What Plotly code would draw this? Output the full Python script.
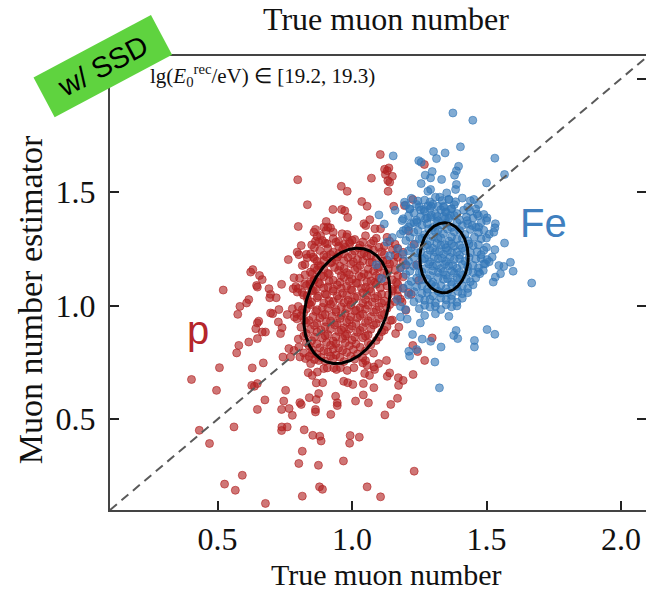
import numpy as np
import plotly.graph_objects as go

# ---------------- data ----------------
# proton sample: (true muon number, muon number estimator)
p_points = [
    (0.798,1.555),(0.960,1.526),(0.982,1.504),(0.834,1.445),(0.929,1.424),(0.961,1.424),(0.973,1.418),
    (0.984,1.389),(0.800,1.349),(0.904,1.371),(0.895,1.346),(0.910,1.346),(0.920,1.343),(0.864,1.336),
    (1.105,1.666),(1.121,1.601),(1.131,1.595),(1.124,1.578),(1.137,1.607),(1.150,1.570),(1.133,1.551),
    (1.140,1.544),(1.269,1.622),(1.072,1.562),(1.134,1.504),(1.036,1.459),(1.056,1.438),(1.226,1.468),
    (1.195,1.441),(1.155,1.438),(1.066,1.379),(1.044,1.361),(1.051,1.353),(1.085,1.339),(1.106,1.339),
    (0.904,1.331),(0.858,1.324),(0.883,1.309),(0.930,1.324),(0.963,1.317),(0.982,1.314),(0.864,1.284),
    (0.876,1.280),(0.908,1.273),(0.940,1.280),(0.969,1.270),(0.992,1.273),(0.811,1.265),(0.796,1.236),
    (0.802,1.225),(0.846,1.229),(0.856,1.214),(0.833,1.211),(0.763,1.203),(0.895,1.199),(0.883,1.177),
    (0.920,1.226),(0.945,1.214),(0.969,1.229),(0.815,1.177),(0.623,1.148),(0.631,1.159),(0.656,1.133),
    (0.666,1.115),(0.645,1.089),(0.648,1.082),(0.521,1.069),(0.691,1.075),(0.697,1.050),(0.694,1.035),
    (0.738,1.094),(0.784,1.123),(0.791,1.085),(0.781,1.075),(0.796,1.060),(0.852,1.141),(0.858,1.111),
    (0.843,1.094),(0.824,1.097),(0.856,1.067),(0.833,1.044),(0.718,1.035),(0.616,1.027),(0.608,1.012),
    (0.583,0.997),(0.575,0.962),(0.728,0.983),(0.697,0.968),(0.705,0.965),(0.759,0.961),(0.778,0.987),
    (0.786,0.950),(0.794,0.965),(0.815,0.983),(0.823,0.935),(0.839,1.009),(0.648,0.924),(0.653,0.932),
    (0.642,0.899),(0.666,0.884),(0.648,0.855),(0.678,0.884),(0.726,0.928),(0.740,0.903),(0.734,0.877),
    (0.579,0.825),(0.616,0.840),(0.571,0.792),(0.765,0.811),(0.784,0.803),(0.802,0.818),(0.806,0.774),
    (0.771,0.774),(0.743,0.774),(0.670,0.748),(0.629,0.726),(0.507,0.727),(0.852,0.789),(0.876,0.759),
    (0.895,0.723),(0.846,0.745),(0.827,0.767),(1.174,0.906),(1.162,0.877),(1.143,0.935),(1.186,1.016),
    (1.226,0.825),(1.244,0.798),(1.270,0.759),(1.298,0.858),(1.128,0.759),(1.099,0.745),(1.081,0.730),
    (1.248,1.111),(0.403,0.675),(0.496,0.627),(0.627,0.649),(0.648,0.657),(0.637,0.645),(0.676,0.585),
    (0.648,0.543),(0.561,0.466),(0.432,0.451),(0.470,0.393),(0.753,0.627),(0.746,0.580),(0.738,0.543),
    (0.766,0.547),(0.778,0.517),(0.806,0.573),(0.811,0.565),(0.837,0.705),(0.852,0.693),(0.871,0.708),
    (0.867,0.660),(0.891,0.661),(0.841,0.595),(0.867,0.587),(0.876,0.613),(0.864,0.543),(0.864,0.532),
    (0.908,0.726),(0.932,0.726),(0.942,0.719),(0.957,0.727),(0.982,0.715),(0.969,0.667),(0.984,0.661),
    (0.939,0.601),(0.945,0.572),(0.945,0.560),(0.921,0.521),(0.739,0.466),(0.738,0.450),(0.759,0.466),
    (0.822,0.453),(0.854,0.429),(0.880,0.425),(0.885,0.404),(0.815,0.359),(0.802,0.305),(0.875,0.297),
    (0.592,0.253),(0.526,0.214),(0.566,0.187),(0.879,0.202),(0.890,0.191),(0.815,0.161),(0.678,0.129),
    (0.993,0.428),(1.027,0.421),(0.991,0.394),(0.968,0.316),(1.007,0.727),(1.040,0.748),(1.056,0.737),
    (1.084,0.719),(1.047,0.701),(1.065,0.693),(1.140,0.704),(1.131,0.689),(1.172,0.683),(1.190,0.671),
    (1.173,0.649),(1.227,0.697),(1.003,0.653),(1.042,0.657),(1.081,0.639),(1.013,0.580),(1.042,0.607),
    (1.061,0.572),(1.144,0.565),(1.169,0.592),(1.122,0.519),(1.231,0.271),(1.056,0.202),(1.106,0.158),
]

# proton dense core (inside / around the contour)
p_core_points = [
    (0.87,1.305),(0.93,1.296),(0.98,1.303),(1.01,1.292),(1.05,1.308),(1.09,1.297),(1.13,1.301),
    (0.85,1.268),(0.90,1.276),(0.95,1.262),(0.99,1.279),(1.03,1.266),(1.07,1.274),(1.12,1.263),(1.16,1.271),
    (0.88,1.243),(0.93,1.236),(0.965,1.248),(1.01,1.241),(1.045,1.232),(1.08,1.245),(1.11,1.238),(1.15,1.247),(1.19,1.235),
    (0.86,1.207),(0.905,1.215),(0.94,1.203),(0.985,1.212),(1.02,1.204),(1.055,1.218),(1.09,1.209),(1.13,1.201),(1.17,1.213),
    (0.825,1.182),(0.875,1.176),(0.92,1.188),(0.955,1.174),(0.995,1.185),(1.03,1.177),(1.065,1.19),(1.10,1.172),(1.14,1.184),(1.20,1.178),
    (0.845,1.148),(0.87,1.157),(0.91,1.143),(0.95,1.155),(0.98,1.146),(1.01,1.158),(1.045,1.141),(1.08,1.153),(1.12,1.145),(1.16,1.156),
    (0.805,1.121),(0.86,1.115),(0.895,1.128),(0.93,1.112),(0.97,1.124),(1.00,1.117),(1.035,1.126),(1.07,1.109),(1.10,1.122),(1.15,1.114),(1.19,1.127),
    (0.83,1.089),(0.88,1.096),(0.91,1.083),(0.945,1.092),(0.98,1.086),(1.02,1.098),(1.05,1.081),(1.09,1.094),(1.13,1.087),(1.17,1.095),
    (0.815,1.058),(0.85,1.066),(0.90,1.052),(0.93,1.064),(0.965,1.055),(1.00,1.068),(1.04,1.057),(1.07,1.063),(1.11,1.051),(1.15,1.066),(1.21,1.058),
    (0.835,1.028),(0.87,1.035),(0.915,1.022),(0.95,1.031),(0.985,1.024),(1.01,1.036),(1.05,1.027),(1.085,1.033),(1.12,1.021),(1.18,1.029),
    (0.80,0.997),(0.845,1.004),(0.89,0.993),(0.92,1.006),(0.96,0.995),(0.995,1.003),(1.03,0.991),(1.06,1.002),(1.10,0.996),(1.14,1.005),
    (0.82,0.968),(0.865,0.975),(0.90,0.962),(0.94,0.973),(0.975,0.966),(1.01,0.977),(1.04,0.963),(1.08,0.972),(1.12,0.965),
    (0.795,0.942),(0.84,0.935),(0.88,0.946),(0.92,0.933),(0.955,0.944),(0.99,0.936),(1.02,0.947),(1.06,0.934),(1.10,0.943),(1.15,0.937),
    (0.81,0.905),(0.86,0.913),(0.90,0.907),(0.935,0.916),(0.97,0.903),(1.00,0.911),(1.04,0.904),(1.08,0.915),(1.13,0.908),
    (0.83,0.877),(0.87,0.884),(0.91,0.873),(0.95,0.886),(0.98,0.875),(1.02,0.883),(1.06,0.872),(1.11,0.885),
    (0.80,0.853),(0.85,0.846),(0.89,0.857),(0.93,0.844),(0.965,0.855),(1.00,0.848),(1.04,0.859),(1.09,0.847),
    (0.84,0.823),(0.88,0.815),(0.92,0.826),(0.95,0.813),(0.99,0.824),(1.03,0.817),(1.07,0.828),
    (0.82,0.792),(0.87,0.785),(0.91,0.796),(0.94,0.783),(0.98,0.794),(1.02,0.787),(1.08,0.791),
    (0.86,0.763),(0.90,0.756),(0.93,0.767),(0.97,0.754),(1.01,0.765),(1.05,0.758),
    (1.22,1.05),(1.20,0.98),(1.24,1.18),(1.17,1.07),(1.23,1.27),(1.21,1.33),
    (0.89,1.287),(0.95,1.283),(1.00,1.288),(1.04,1.281),(1.08,1.286),(1.14,1.284),
    (0.86,1.256),(0.91,1.252),(0.975,1.258),(1.025,1.254),(1.06,1.251),(1.10,1.257),(1.17,1.253),
    (0.83,1.226),(0.895,1.222),(0.95,1.228),(1.00,1.224),(1.035,1.227),(1.07,1.221),(1.12,1.226),(1.16,1.223),
    (0.87,1.196),(0.925,1.192),(0.97,1.198),(1.005,1.193),(1.04,1.197),(1.075,1.191),(1.115,1.196),(1.155,1.192),(1.19,1.197),
    (0.86,1.166),(0.895,1.162),(0.935,1.168),(0.97,1.163),(1.02,1.167),(1.06,1.161),(1.095,1.166),(1.135,1.162),(1.18,1.168),
    (0.825,1.136),(0.885,1.132),(0.915,1.138),(0.96,1.133),(0.99,1.137),(1.025,1.131),(1.06,1.136),(1.09,1.132),(1.13,1.138),(1.17,1.133),
    (0.845,1.106),(0.875,1.102),(0.915,1.108),(0.955,1.103),(0.99,1.107),(1.015,1.101),(1.055,1.106),(1.085,1.102),(1.12,1.108),(1.165,1.103),
    (0.80,1.076),(0.865,1.072),(0.895,1.078),(0.93,1.073),(0.96,1.077),(0.995,1.071),(1.035,1.076),(1.065,1.072),(1.105,1.078),(1.15,1.073),(1.19,1.077),
    (0.82,1.046),(0.875,1.042),(0.905,1.048),(0.945,1.043),(0.98,1.047),(1.02,1.041),(1.055,1.046),(1.095,1.042),(1.135,1.048),(1.17,1.043),
    (0.85,1.016),(0.895,1.012),(0.93,1.018),(0.97,1.013),(1.00,1.017),(1.04,1.011),(1.075,1.016),(1.11,1.012),(1.16,1.018),
    (0.83,0.986),(0.87,0.982),(0.91,0.988),(0.94,0.983),(0.98,0.987),(1.015,0.981),(1.05,0.986),(1.09,0.982),(1.13,0.988),
    (0.81,0.956),(0.855,0.952),(0.89,0.958),(0.925,0.953),(0.96,0.957),(0.995,0.951),(1.03,0.956),(1.07,0.952),(1.11,0.958),
    (0.83,0.926),(0.87,0.922),(0.905,0.928),(0.945,0.923),(0.98,0.927),(1.015,0.921),(1.05,0.926),(1.09,0.922),
    (0.845,0.896),(0.885,0.892),(0.92,0.898),(0.96,0.893),(0.99,0.897),(1.03,0.891),(1.07,0.896),(1.12,0.892),
    (0.82,0.866),(0.86,0.862),(0.90,0.868),(0.94,0.863),(0.975,0.867),(1.01,0.861),(1.05,0.866),(1.10,0.862),
    (0.83,0.836),(0.87,0.832),(0.905,0.838),(0.94,0.833),(0.975,0.837),(1.015,0.831),(1.06,0.836),
    (0.85,0.806),(0.895,0.802),(0.93,0.808),(0.965,0.803),(1.005,0.807),(1.05,0.801),
    (0.84,0.776),(0.885,0.772),(0.92,0.778),(0.955,0.773),(0.995,0.777),(1.04,0.771),
]

# iron sample
fe_points = [
    (1.375,1.849),(1.449,1.817),(1.153,1.660),(1.303,1.679),(1.346,1.673),(1.403,1.700),(1.314,1.648),
    (1.248,1.639),(1.257,1.632),(1.531,1.650),(1.396,1.614),(1.388,1.594),(1.381,1.575),(1.298,1.591),
    (1.272,1.575),(1.292,1.563),(1.333,1.556),(1.567,1.578),(1.500,1.541),(1.257,1.538),(1.388,1.534),
    (1.385,1.512),(1.352,1.497),(1.292,1.512),(1.282,1.504),(1.453,1.468),(1.326,1.478),(1.360,1.468),
    (1.195,1.456),(1.214,1.427),(1.240,1.446),(1.282,1.440),(1.295,1.438),(1.267,1.424),(1.320,1.438),
    (1.341,1.434),(1.369,1.427),(1.347,1.412),(1.465,1.405),(1.490,1.402),(1.502,1.387),(1.533,1.361),
    (1.186,1.375),(1.217,1.361),(1.242,1.368),(1.273,1.383),(1.292,1.390),(1.317,1.393),(1.347,1.383),
    (1.366,1.397),(1.428,1.375),(1.447,1.353),(1.471,1.346),
    (1.668,1.100),(1.599,1.152),(1.589,1.191),(1.564,1.173),(1.546,1.177),(1.525,1.104),(1.533,1.126),
    (1.552,1.141),(1.567,1.276),(1.531,1.247),(1.521,1.214),(1.502,1.203),(1.496,1.185),(1.488,1.155),
    (1.475,1.141),(1.531,1.343),(1.527,1.324),(1.502,0.895),(1.531,0.874),(1.455,0.847),(1.455,0.818),
    (1.387,0.891),(1.378,0.869),(1.393,0.855),(1.331,0.818),(1.292,0.843),(1.261,0.853),(1.214,0.778),
    (1.211,0.799),(1.240,0.807),(1.308,0.752),(1.225,0.873),(1.254,0.924),(1.180,0.950),(1.205,0.941),
    (1.180,0.997),(1.199,0.983),(1.168,1.027),(1.325,0.638),
    (1.12,1.36),(1.15,1.30),(1.17,1.25),(1.14,1.22),(1.19,1.33),(1.10,1.40),(1.16,1.42),(1.13,1.28),
    (1.09,1.18),(1.11,1.12),
]

# iron dense core
fe_core_points = [
    (1.22,1.473),(1.27,1.465),(1.31,1.478),(1.36,1.468),(1.41,1.474),
    (1.20,1.443),(1.25,1.436),(1.30,1.447),(1.34,1.438),(1.38,1.445),(1.43,1.434),(1.47,1.446),
    (1.23,1.408),(1.27,1.416),(1.31,1.404),(1.35,1.413),(1.39,1.406),(1.44,1.415),
    (1.19,1.383),(1.24,1.376),(1.28,1.387),(1.32,1.374),(1.36,1.385),(1.40,1.378),(1.45,1.386),(1.50,1.375),
    (1.21,1.347),(1.26,1.355),(1.30,1.344),(1.33,1.356),(1.37,1.345),(1.41,1.353),(1.46,1.346),
    (1.18,1.316),(1.23,1.324),(1.27,1.313),(1.31,1.325),(1.34,1.317),(1.38,1.326),(1.42,1.314),(1.47,1.323),(1.51,1.315),
    (1.20,1.287),(1.25,1.294),(1.29,1.283),(1.32,1.296),(1.36,1.285),(1.39,1.293),(1.43,1.286),(1.48,1.295),
    (1.22,1.256),(1.27,1.264),(1.30,1.253),(1.33,1.266),(1.35,1.255),(1.38,1.262),(1.41,1.254),(1.45,1.265),(1.50,1.257),
    (1.19,1.226),(1.24,1.233),(1.28,1.224),(1.31,1.236),(1.34,1.227),(1.37,1.235),(1.40,1.223),(1.44,1.234),(1.48,1.225),
    (1.21,1.197),(1.26,1.204),(1.29,1.193),(1.32,1.206),(1.35,1.195),(1.38,1.203),(1.42,1.196),(1.46,1.205),(1.51,1.194),
    (1.18,1.166),(1.23,1.174),(1.27,1.163),(1.30,1.175),(1.33,1.164),(1.36,1.176),(1.39,1.165),(1.43,1.173),(1.47,1.167),
    (1.20,1.137),(1.25,1.144),(1.29,1.133),(1.32,1.146),(1.35,1.135),(1.38,1.143),(1.41,1.134),(1.45,1.145),
    (1.22,1.107),(1.26,1.114),(1.30,1.103),(1.34,1.116),(1.37,1.105),(1.40,1.113),(1.44,1.106),
    (1.19,1.077),(1.24,1.084),(1.28,1.073),(1.31,1.086),(1.35,1.075),(1.39,1.083),(1.43,1.076),
    (1.21,1.047),(1.26,1.054),(1.30,1.043),(1.33,1.056),(1.37,1.045),(1.41,1.053),
    (1.23,1.017),(1.27,1.024),(1.31,1.013),(1.35,1.026),(1.39,1.015),
    (1.25,0.987),(1.29,0.994),(1.33,0.983),(1.37,0.995),
    (1.27,0.957),(1.31,0.964),(1.36,0.953),
    (1.245,1.461),(1.29,1.457),(1.335,1.463),(1.385,1.458),(1.44,1.462),
    (1.215,1.426),(1.255,1.422),(1.29,1.428),(1.33,1.423),(1.37,1.427),(1.415,1.421),(1.46,1.426),
    (1.21,1.396),(1.255,1.392),(1.295,1.398),(1.34,1.393),(1.38,1.397),(1.425,1.391),(1.47,1.396),
    (1.23,1.366),(1.28,1.362),(1.315,1.368),(1.35,1.363),(1.39,1.367),(1.43,1.361),(1.48,1.366),
    (1.20,1.336),(1.245,1.332),(1.285,1.338),(1.32,1.333),(1.355,1.337),(1.40,1.331),(1.44,1.336),(1.49,1.332),
    (1.215,1.302),(1.26,1.298),(1.30,1.304),(1.33,1.299),(1.37,1.303),(1.41,1.297),(1.455,1.302),(1.50,1.298),
    (1.235,1.272),(1.28,1.268),(1.315,1.274),(1.345,1.269),(1.37,1.273),(1.40,1.267),(1.435,1.272),(1.47,1.268),
    (1.21,1.242),(1.255,1.238),(1.29,1.244),(1.325,1.239),(1.355,1.243),(1.39,1.237),(1.42,1.242),(1.465,1.238),(1.49,1.244),
    (1.23,1.212),(1.27,1.208),(1.305,1.214),(1.335,1.209),(1.365,1.213),(1.40,1.207),(1.435,1.212),(1.48,1.208),
    (1.20,1.182),(1.245,1.178),(1.285,1.184),(1.315,1.179),(1.345,1.183),(1.375,1.177),(1.41,1.182),(1.45,1.178),(1.49,1.184),
    (1.215,1.152),(1.26,1.148),(1.30,1.154),(1.34,1.149),(1.37,1.153),(1.40,1.147),(1.43,1.152),(1.47,1.148),
    (1.24,1.122),(1.28,1.118),(1.32,1.124),(1.355,1.119),(1.39,1.123),(1.425,1.117),(1.46,1.122),
    (1.21,1.092),(1.26,1.088),(1.295,1.094),(1.33,1.089),(1.37,1.093),(1.41,1.087),(1.45,1.092),
    (1.23,1.062),(1.28,1.058),(1.32,1.064),(1.355,1.059),(1.395,1.063),(1.43,1.057),
    (1.25,1.032),(1.29,1.028),(1.33,1.034),(1.37,1.029),(1.41,1.033),
    (1.27,1.002),(1.31,0.998),(1.35,1.004),(1.39,0.999),
]

p_x = [pt[0] for pt in p_points + p_core_points]
p_y = [pt[1] for pt in p_points + p_core_points]
fe_x = [pt[0] for pt in fe_points + fe_core_points]
fe_y = [pt[1] for pt in fe_points + fe_core_points]

# 1-sigma contour parameters  [p, Fe]
ell_cx = [0.981, 1.342]
ell_cy = [0.999, 1.211]
ell_sx = [0.160, 0.090]
ell_sy = [0.254, 0.154]
ell_rho = [0.249, 0.02]

diag = [0.1, 2.1]
x_ticks = [0.5, 1.0, 1.5, 2.0]
y_ticks = [0.5, 1.0, 1.5, 2.0]
x_range = [0.1, 2.093]
y_range = [0.1, 2.1]

RED = "rgba(178,34,34,0.62)"
BLUE = "rgba(52,120,184,0.62)"
SERIF = "Liberation Serif"
SANS = "Liberation Sans"

fig = go.Figure()

fig.add_trace(go.Scatter(x=diag, y=diag, mode="lines", yaxis="y2",
                         line=dict(color="#5a5a5a", width=2, dash="9px,6px"),
                         hoverinfo="skip", showlegend=False))

fig.add_trace(go.Scatter(x=p_x, y=p_y, mode="markers", name="p", showlegend=False,
                         marker=dict(size=8, color=RED, line=dict(width=1, color=RED))))
fig.add_trace(go.Scatter(x=fe_x, y=fe_y, mode="markers", name="Fe", showlegend=False,
                         marker=dict(size=8, color=BLUE, line=dict(width=1, color=BLUE))))

t = np.linspace(0, 2 * np.pi, 240)
for cx, cy, sx, sy, rho in zip(ell_cx, ell_cy, ell_sx, ell_sy, ell_rho):
    ex = cx + sx * np.cos(t)
    ey = cy + sy * (rho * np.cos(t) + np.sqrt(1 - rho ** 2) * np.sin(t))
    fig.add_trace(go.Scatter(x=ex, y=ey, mode="lines", line=dict(color="black", width=3),
                             hoverinfo="skip", showlegend=False))

tick_style = dict(showgrid=False, zeroline=False, ticks="inside", ticklen=9, tickwidth=1.5,
                  tickcolor="#222222", tickfont=dict(family=SERIF, size=32, color="#111111"),
                  tickformat=".1f")

fig.update_layout(
    xaxis=dict(range=x_range, tickvals=x_ticks, showline=True, mirror=True,
               linecolor="#444444", linewidth=2, ticklabelstandoff=0, **tick_style),
    yaxis=dict(range=y_range, tickvals=y_ticks, showline=True, mirror=False,
               linecolor="#444444", linewidth=2, ticklabelstandoff=6, **tick_style),
    yaxis2=dict(range=y_range, tickvals=y_ticks, overlaying="y", side="right",
                showline=False, showticklabels=False, **tick_style),
)

annotations = [
    dict(text="True muon number", xref="paper", yref="paper", x=0.515, y=-0.143,
         xanchor="center", yanchor="middle", showarrow=False,
         font=dict(family=SERIF, size=30, color="#111111")),
    dict(text="True muon number", xref="paper", yref="paper", x=0.515, y=1.0815,
         xanchor="center", yanchor="middle", showarrow=False,
         font=dict(family=SERIF, size=32, color="#111111")),
    dict(text="Muon number estimator", xref="paper", yref="paper", x=-0.147, y=0.4626,
         xanchor="center", yanchor="middle", textangle=-90, showarrow=False,
         font=dict(family=SERIF, size=34, color="#111111")),
    dict(text="lg(<i>E</i><sub>0</sub><sup>rec</sup>/eV) ∈ [19.2, 19.3)",
         xref="x domain", yref="y domain", x=0.07, y=0.956, xanchor="left", yanchor="middle",
         showarrow=False, font=dict(family=SERIF, size=21, color="#111111")),
    dict(text="Fe", xref="x", yref="y", x=1.712, y=1.363, showarrow=False,
         font=dict(family=SANS, size=40, color="#3f7fbf")),
    dict(text="p", xref="x", yref="y", x=0.429, y=0.892, showarrow=False,
         font=dict(family=SANS, size=40, color="#b5262b")),
    dict(text="w/ SSD", xref="paper", yref="paper", x=-0.013, y=0.977,
         xanchor="center", yanchor="middle", textangle=-28, showarrow=False,
         width=122, height=34, borderpad=5, bgcolor="#5fd33f",
         font=dict(family=SANS, size=29, color="black")),
]

fig.update_layout(width=646, height=592, margin=dict(l=110, r=0, t=56, b=82),
                  plot_bgcolor="white", paper_bgcolor="white", annotations=annotations,
                  showlegend=False)

fig.write_html("out.html")
